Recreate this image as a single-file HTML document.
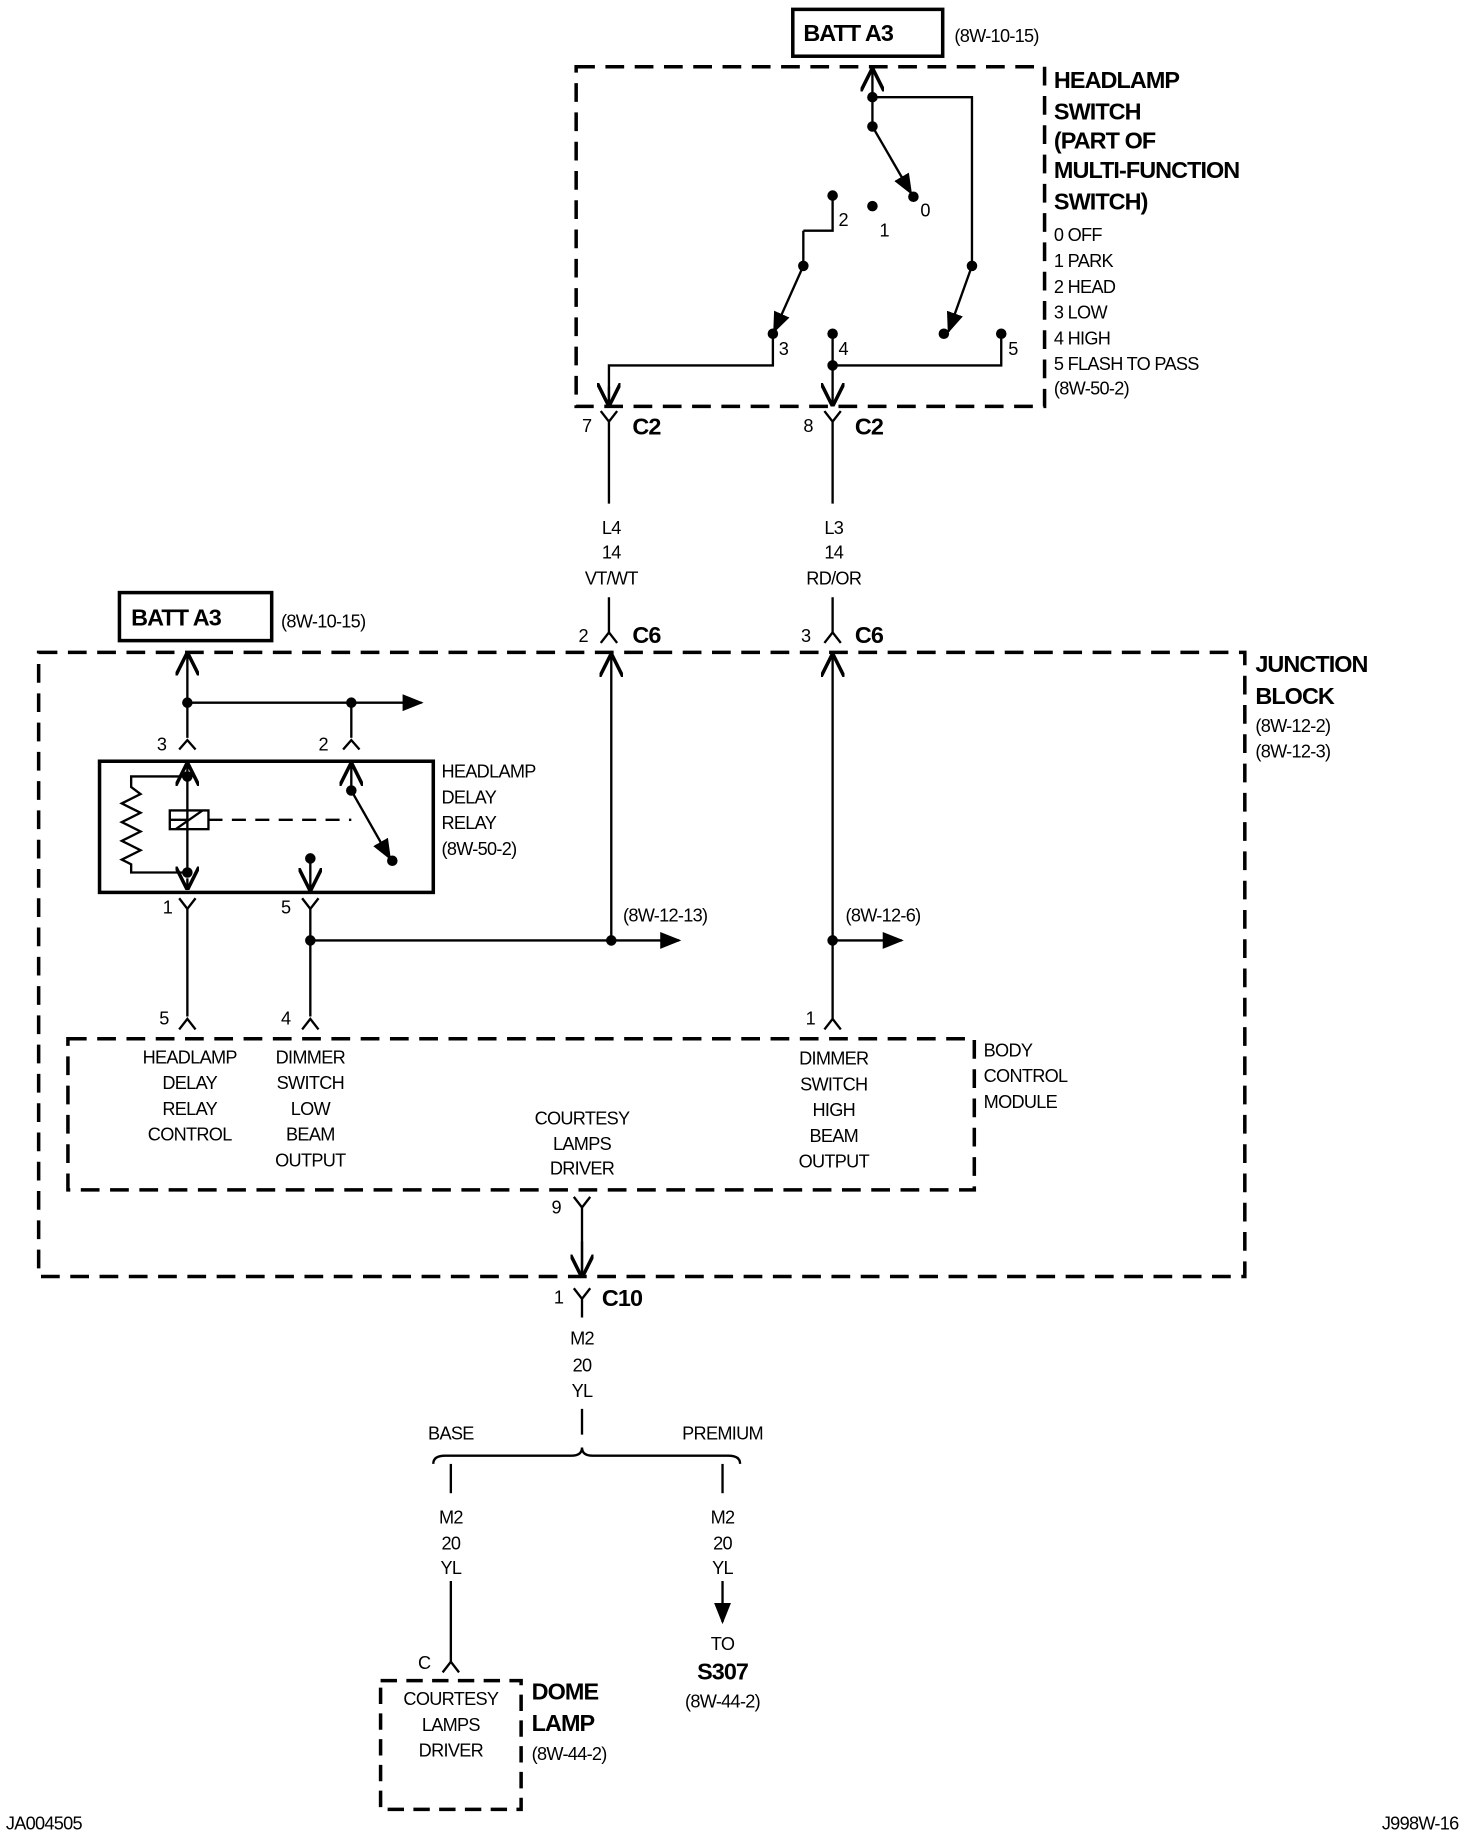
<!DOCTYPE html>
<html><head><meta charset="utf-8"><style>
html,body{margin:0;padding:0;background:#fff;}
svg{display:block;}
text{font-family:"Liberation Sans",sans-serif;font-size:15.5px;fill:#000;letter-spacing:-0.6px;}
.b{font-weight:bold;font-size:20px;letter-spacing:-0.8px;}
.c{text-anchor:middle;}
</style></head><body>
<svg width="1472" height="1834" viewBox="0 0 1257 1566" preserveAspectRatio="none" xmlns="http://www.w3.org/2000/svg">
<defs>
<marker id="ar" viewBox="0 0 10 10" refX="9" refY="5" markerWidth="9" markerHeight="9" orient="auto-start-reverse"><path d="M0,1 L10,5 L0,9 z" fill="#000"/></marker>
<marker id="oa" viewBox="0 0 10 10" refX="10" refY="5" markerWidth="10" markerHeight="10" orient="auto-start-reverse"><path d="M0,0 L10,5 L0,10" fill="none" stroke="#000" stroke-width="1.5"/></marker>
</defs>
<g stroke="#000" stroke-width="2" fill="none">
<!-- top batt -->
<rect x="677" y="8" width="128" height="40" stroke-width="3"/>
<!-- headlamp switch box -->
<rect x="492" y="57" width="400" height="290" stroke-width="3" stroke-dasharray="16,9"/>
<line x1="745" y1="108" x2="745" y2="58" marker-end="url(#oa)"/>
<polyline points="745,83 830,83 830,227"/>
<line x1="830" y1="227" x2="810" y2="283" marker-end="url(#ar)"/>
<line x1="745" y1="108" x2="778" y2="165" marker-end="url(#ar)"/>
<polyline points="711,167 711,197 686,197"/>
<line x1="686" y1="227" x2="661" y2="283" marker-end="url(#ar)"/>
<polyline points="686,197 686,227"/>
<polyline points="660,285 660,312 520,312 520,346"/>
<line x1="520" y1="330" x2="520" y2="347" marker-end="url(#oa)"/>
<line x1="711" y1="285" x2="711" y2="347" marker-end="url(#oa)"/>
<polyline points="711,312 855,312 855,285"/>
<!-- C2 connectors -->
<path d="M513,351 L520,360 L527,351 M520,360 V430"/>
<path d="M704,351 L711,360 L718,351 M711,360 V430"/>
<!-- C6 -->
<path d="M513,549 L520,540 L527,549 M520,540 V510"/>
<path d="M704,549 L711,540 L718,549 M711,540 V510"/>
<!-- batt 2 -->
<rect x="102" y="506" width="130" height="41" stroke-width="3"/>
<!-- junction block -->
<rect x="33" y="557" width="1030" height="533" stroke-width="3" stroke-dasharray="16,9"/>
<line x1="160" y1="630" x2="160" y2="557" marker-end="url(#oa)"/>
<line x1="160" y1="600" x2="360" y2="600" marker-end="url(#ar)"/>
<line x1="300" y1="600" x2="300" y2="630"/>
<path d="M153,640 L160,632 L167,640 M293,640 L300,632 L307,640"/>
<!-- relay -->
<rect x="85" y="650" width="285" height="112" stroke-width="3"/>
<line x1="160" y1="745" x2="160" y2="651" marker-end="url(#oa)"/>
<line x1="160" y1="750" x2="160" y2="760" marker-end="url(#oa)"/>
<polyline points="160,663 112,663 112,672 120,678 104,686 120,694 104,702 120,710 104,718 120,726 104,734 112,738 112,745 160,745"/>
<line x1="160" y1="700" x2="145" y2="700"/>
<rect x="145" y="692" width="33" height="16"/>
<line x1="150" y1="708" x2="173" y2="692"/>
<line x1="178" y1="700" x2="300" y2="700" stroke-dasharray="12,8"/>
<line x1="300" y1="675" x2="300" y2="651" marker-end="url(#oa)"/>
<line x1="300" y1="675" x2="333" y2="733" marker-end="url(#ar)"/>
<line x1="265" y1="733" x2="265" y2="761" marker-end="url(#oa)"/>
<path d="M153,767 L160,776 L167,767 M258,767 L265,776 L272,767"/>
<line x1="160" y1="776" x2="160" y2="868"/>
<line x1="265" y1="776" x2="265" y2="868"/>
<line x1="265" y1="803" x2="580" y2="803" marker-end="url(#ar)"/>
<line x1="522" y1="803" x2="522" y2="558" marker-end="url(#oa)"/>
<line x1="711" y1="870" x2="711" y2="558" marker-end="url(#oa)"/>
<line x1="711" y1="803" x2="770" y2="803" marker-end="url(#ar)"/>
<path d="M153,879 L160,870 L167,879 M258,879 L265,870 L272,879 M704,879 L711,870 L718,879"/>
<!-- BCM -->
<rect x="58" y="887" width="774" height="129" stroke-width="3" stroke-dasharray="16,9"/>
<path d="M490,1022 L497,1031 L504,1022 M497,1031 V1091"/>
<line x1="497" y1="1060" x2="497" y2="1091" marker-end="url(#oa)"/>
<path d="M490,1100 L497,1109 L504,1100 M497,1109 V1125"/>
<line x1="497" y1="1203" x2="497" y2="1225"/>
<path d="M370,1250 Q370,1243 380,1243 L488,1243 Q497,1243 497,1236 Q497,1243 506,1243 L622,1243 Q632,1243 632,1250"/>
<line x1="385" y1="1250" x2="385" y2="1275"/>
<line x1="617" y1="1250" x2="617" y2="1275"/>
<line x1="385" y1="1350" x2="385" y2="1420"/>
<path d="M378,1428 L385,1419 L392,1428"/>
<line x1="617" y1="1350" x2="617" y2="1385" marker-end="url(#ar)"/>
<rect x="325" y="1435" width="120" height="110" stroke-width="3" stroke-dasharray="14,8"/>
</g>
<g fill="#000">
<circle cx="745" cy="83" r="4.5"/><circle cx="745" cy="108" r="4.5"/><circle cx="780" cy="168" r="4.5"/>
<circle cx="711" cy="167" r="4.5"/><circle cx="745" cy="176" r="4.5"/><circle cx="686" cy="227" r="4.5"/>
<circle cx="830" cy="227" r="4.5"/><circle cx="660" cy="285" r="4.5"/><circle cx="711" cy="285" r="4.5"/>
<circle cx="806" cy="285" r="4.5"/><circle cx="855" cy="285" r="4.5"/><circle cx="711" cy="312" r="4.5"/>
<circle cx="160" cy="600" r="4.5"/><circle cx="300" cy="600" r="4.5"/>
<circle cx="160" cy="663" r="4.5"/><circle cx="160" cy="745" r="4.5"/><circle cx="300" cy="675" r="4.5"/>
<circle cx="335" cy="735" r="4.5"/><circle cx="265" cy="733" r="4.5"/>
<circle cx="265" cy="803" r="4.5"/><circle cx="522" cy="803" r="4.5"/><circle cx="711" cy="803" r="4.5"/>
</g>
<text class="b" x="686" y="35">BATT A3</text>
<text x="815" y="36">(8W-10-15)</text>
<text class="b" x="900" y="75">HEADLAMP</text>
<text class="b" x="900" y="102">SWITCH</text>
<text class="b" x="900" y="127">(PART OF</text>
<text class="b" x="900" y="152">MULTI-FUNCTION</text>
<text class="b" x="900" y="179">SWITCH)</text>
<text x="900" y="206">0 OFF</text><text x="900" y="228">1 PARK</text><text x="900" y="250">2 HEAD</text>
<text x="900" y="272">3 LOW</text><text x="900" y="294">4 HIGH</text><text x="900" y="316">5 FLASH TO PASS</text>
<text x="900" y="337">(8W-50-2)</text>
<text x="716" y="193">2</text><text x="751" y="202">1</text><text x="786" y="185">0</text>
<text x="665" y="303">3</text><text x="716" y="303">4</text><text x="861" y="303">5</text>
<text x="497" y="369">7</text><text class="b" x="540" y="371">C2</text>
<text x="686" y="369">8</text><text class="b" x="730" y="371">C2</text>
<text class="c" x="522" y="456">L4</text><text class="c" x="522" y="477">14</text><text class="c" x="522" y="499">VT/WT</text>
<text class="c" x="712" y="456">L3</text><text class="c" x="712" y="477">14</text><text class="c" x="712" y="499">RD/OR</text>
<text x="494" y="548">2</text><text class="b" x="540" y="549">C6</text>
<text x="684" y="548">3</text><text class="b" x="730" y="549">C6</text>
<text class="b" x="112" y="534">BATT A3</text>
<text x="240" y="536">(8W-10-15)</text>
<text class="b" x="1072" y="574">JUNCTION</text>
<text class="b" x="1072" y="601">BLOCK</text>
<text x="1072" y="625">(8W-12-2)</text><text x="1072" y="647">(8W-12-3)</text>
<text x="134" y="641">3</text><text x="272" y="641">2</text>
<text x="377" y="664">HEADLAMP</text><text x="377" y="686">DELAY</text><text x="377" y="708">RELAY</text><text x="377" y="730">(8W-50-2)</text>
<text x="139" y="780">1</text><text x="240" y="780">5</text>
<text x="532" y="787">(8W-12-13)</text><text x="722" y="787">(8W-12-6)</text>
<text x="136" y="875">5</text><text x="240" y="875">4</text><text x="688" y="875">1</text>
<text class="c" x="162" y="908">HEADLAMP</text><text class="c" x="162" y="930">DELAY</text><text class="c" x="162" y="952">RELAY</text><text class="c" x="162" y="974">CONTROL</text>
<text class="c" x="265" y="908">DIMMER</text><text class="c" x="265" y="930">SWITCH</text><text class="c" x="265" y="952">LOW</text><text class="c" x="265" y="974">BEAM</text><text class="c" x="265" y="996">OUTPUT</text>
<text class="c" x="712" y="909">DIMMER</text><text class="c" x="712" y="931">SWITCH</text><text class="c" x="712" y="953">HIGH</text><text class="c" x="712" y="975">BEAM</text><text class="c" x="712" y="997">OUTPUT</text>
<text class="c" x="497" y="960">COURTESY</text><text class="c" x="497" y="982">LAMPS</text><text class="c" x="497" y="1003">DRIVER</text>
<text x="840" y="902">BODY</text><text x="840" y="924">CONTROL</text><text x="840" y="946">MODULE</text>
<text x="471" y="1036">9</text>
<text x="473" y="1113">1</text><text class="b" x="514" y="1115">C10</text>
<text class="c" x="497" y="1148">M2</text><text class="c" x="497" y="1171">20</text><text class="c" x="497" y="1193">YL</text>
<text class="c" x="385" y="1229">BASE</text><text class="c" x="617" y="1229">PREMIUM</text>
<text class="c" x="385" y="1301">M2</text><text class="c" x="385" y="1323">20</text><text class="c" x="385" y="1344">YL</text>
<text class="c" x="617" y="1301">M2</text><text class="c" x="617" y="1323">20</text><text class="c" x="617" y="1344">YL</text>
<text x="357" y="1425">C</text>
<text class="c" x="385" y="1456">COURTESY</text><text class="c" x="385" y="1478">LAMPS</text><text class="c" x="385" y="1500">DRIVER</text>
<text class="b" x="454" y="1451">DOME</text><text class="b" x="454" y="1478">LAMP</text><text x="454" y="1503">(8W-44-2)</text>
<text class="c" x="617" y="1409">TO</text><text class="b c" x="617" y="1434">S307</text><text class="c" x="617" y="1458">(8W-44-2)</text>
<text x="5" y="1562">JA004505</text><text x="1180" y="1562">J998W-16</text>
</svg>
</body></html>
